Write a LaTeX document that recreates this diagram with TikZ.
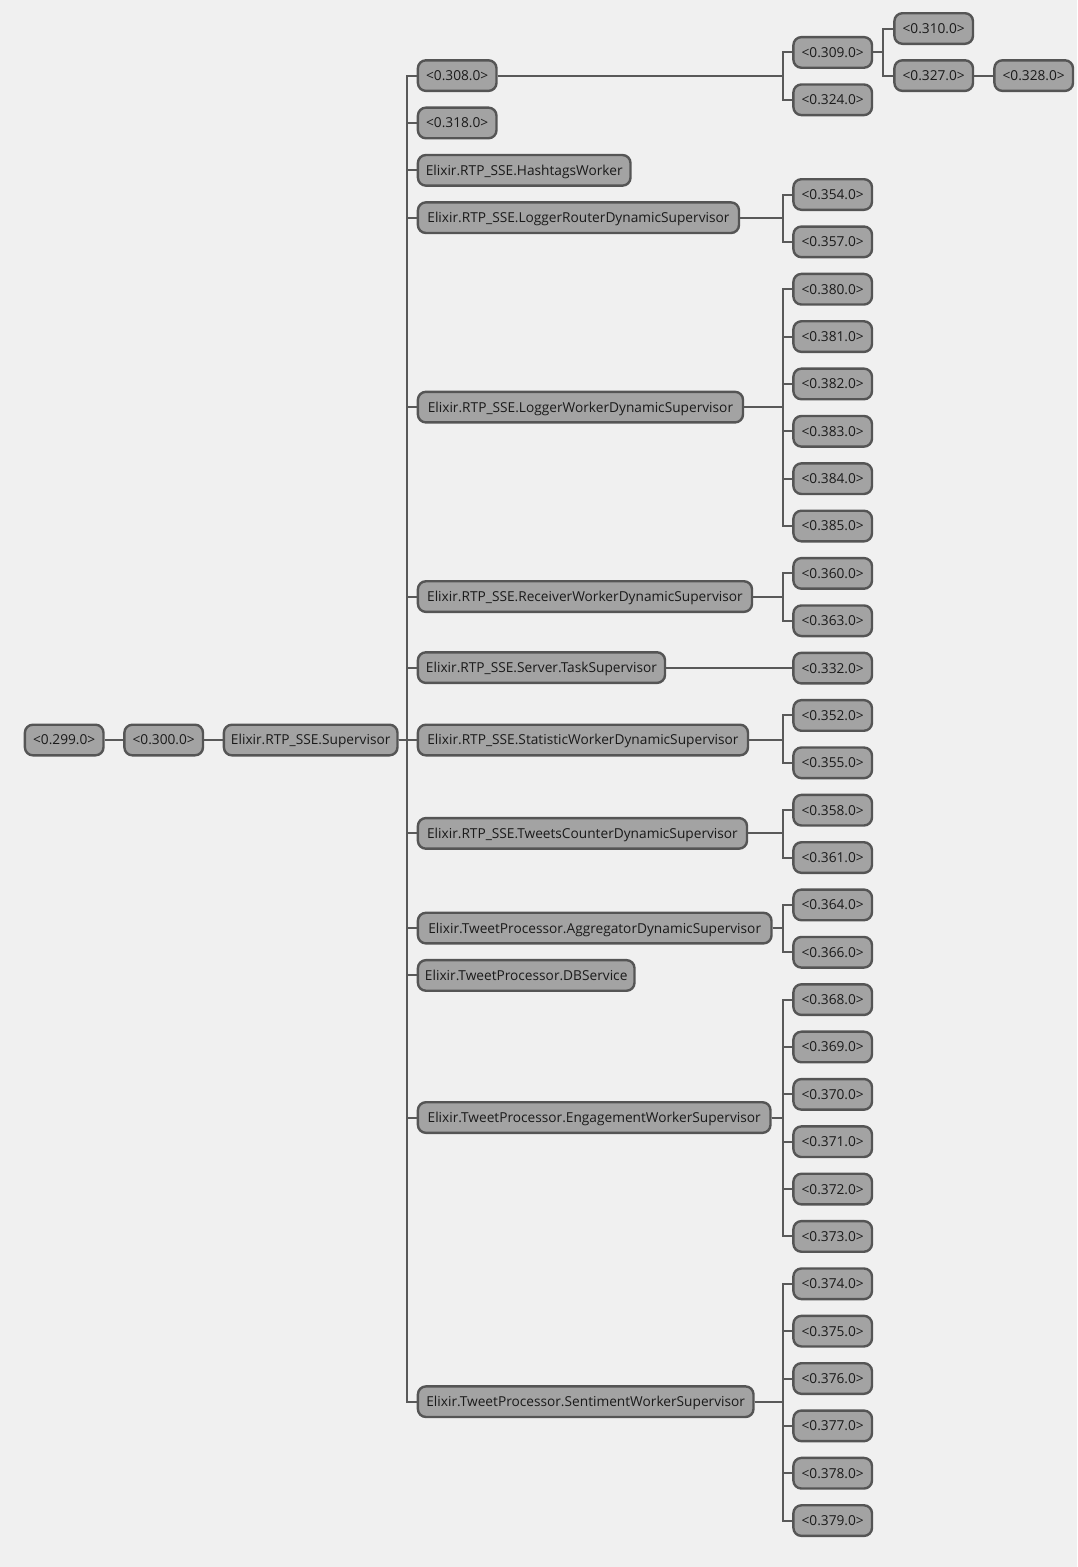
\documentclass[tikz,border=0pt]{standalone}
\usepackage{fontspec}
\setmainfont{Open Sans}
\definecolor{bg}{HTML}{F0F0F0}
\definecolor{boxfill}{HTML}{A3A3A3}
\definecolor{boxline}{HTML}{555555}
\definecolor{wire}{HTML}{595959}
\definecolor{txt}{HTML}{1A1A1A}

\begin{document}
\begin{tikzpicture}[x=1pt,y=-1pt,
  proc/.style={draw=boxline, fill=boxfill, line width=2.4pt,
    rounded corners=8pt, anchor=west, xshift=1.2pt,
    minimum width={#1pt-2.4pt}, minimum height=30.6pt,
    inner xsep=0pt, inner ysep=0pt, text=txt,
    text height=9.9pt, text depth=0pt,
    font=\fontsize{13.7}{16}\selectfont},
  proc/.default=81,
  link/.style={draw=wire, line width=2pt}]

% canvas
\fill[bg] (0,0) rectangle (1077,1567);
\useasboundingbox (0,0) rectangle (1077,1567);

% root chain
\node[proc] (n299) at (22.5,740) {<0.299.0>};
\node[proc] (n300) at (122,740) {<0.300.0>};
\node[proc=176] (sup) at (221.5,740) {Elixir.RTP\_SSE.Supervisor};

% children of the application supervisor
\node[proc] (n308) at (415.5,75.6) {<0.308.0>};
\node[proc] (n318) at (415.5,122.96) {<0.318.0>};
\node[proc=215] (hash) at (415.5,170.32) {Elixir.RTP\_SSE.HashtagsWorker};
\node[proc=323.5] (lrouter) at (415.5,217.68) {Elixir.RTP\_SSE.LoggerRouterDynamicSupervisor};
\node[proc=327.5] (lworker) at (415.5,407.12) {Elixir.RTP\_SSE.LoggerWorkerDynamicSupervisor};
\node[proc=336.5] (recv) at (415.5,596.56) {Elixir.RTP\_SSE.ReceiverWorkerDynamicSupervisor};
\node[proc=249.5] (task) at (415.5,667.6) {Elixir.RTP\_SSE.Server.TaskSupervisor};
\node[proc=332.5] (stat) at (415.5,740) {Elixir.RTP\_SSE.StatisticWorkerDynamicSupervisor};
\node[proc=331.5] (tcount) at (415.5,833.36) {Elixir.RTP\_SSE.TweetsCounterDynamicSupervisor};
\node[proc=356] (aggr) at (415.5,928.08) {Elixir.TweetProcessor.AggregatorDynamicSupervisor};
\node[proc=219] (dbs) at (415.5,975.44) {Elixir.TweetProcessor.DBService};
\node[proc=355] (eng) at (415.5,1117.52) {Elixir.TweetProcessor.EngagementWorkerSupervisor};
\node[proc=338] (sent) at (415.5,1401.68) {Elixir.TweetProcessor.SentimentWorkerSupervisor};

% worker processes (one row every 47.36px)
\foreach \id/\k in {309/-3,324/-2,354/0,357/1,
    380/2,381/3,382/4,383/5,384/6,385/7,
    360/8,363/9,332/10,352/11,355/12,358/13,361/14,
    364/15,366/16,368/17,369/18,370/19,371/20,372/21,373/22,
    374/23,375/24,376/25,377/26,378/27,379/28}
  \node[proc] (n\id) at (791,{194.5+47.36*\k}) {<0.\id.0>};

\node[proc] (n310) at (892,28.5) {<0.310.0>};
\node[proc] (n327) at (892,75.6) {<0.327.0>};
\node[proc] (n328) at (992,75.6) {<0.328.0>};

% connectors
\draw[link] (n299.east) -- (n300.west);
\draw[link] (n300.east) -- (sup.west);

\foreach \c in {n308,n318,hash,lrouter,lworker,recv,task,stat,tcount,aggr,dbs,eng,sent}
  \draw[link] (sup.east) -| ([xshift=-9.5pt]\c.west) -- (\c.west);

\foreach \p/\c in {n308/n309,n308/n324,lrouter/n354,lrouter/n357,
    lworker/n380,lworker/n381,lworker/n382,lworker/n383,lworker/n384,lworker/n385,
    recv/n360,recv/n363,task/n332,stat/n352,stat/n355,tcount/n358,tcount/n361,
    aggr/n364,aggr/n366,
    eng/n368,eng/n369,eng/n370,eng/n371,eng/n372,eng/n373,
    sent/n374,sent/n375,sent/n376,sent/n377,sent/n378,sent/n379}
  \draw[link] (\p.east) -| ([xshift=-9pt]\c.west) -- (\c.west);

\foreach \c in {n310,n327}
  \draw[link] (n309.east) -| ([xshift=-10.5pt]\c.west) -- (\c.west);
\draw[link] (n327.east) -- (n328.west);

\end{tikzpicture}
\end{document}
